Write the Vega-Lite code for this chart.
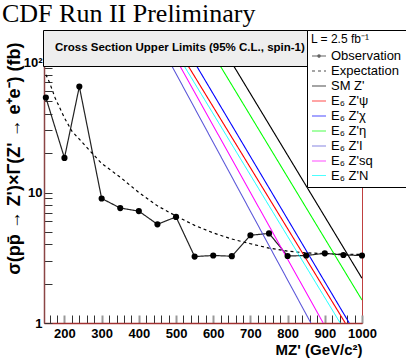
{
  "$schema": "https://vega.github.io/schema/vega-lite/v6.json",
  "autosize": "none",
  "width": 318,
  "height": 261,
  "padding": {"top": 62, "left": 44, "right": 44, "bottom": 37},
  "background": "white",
  "view": {"stroke": "#c04040", "strokeWidth": 1},
  "title": {
    "text": "CDF Run II Preliminary",
    "anchor": "start",
    "frame": "group",
    "dx": -42,
    "offset": 3,
    "font": "Liberation Serif",
    "fontSize": 26,
    "fontWeight": "normal",
    "color": "black"
  },
  "datasets": {
    "lines": [
      {"series": "Observation", "mass": 150, "xs": 53.4},
      {"series": "Observation", "mass": 200, "xs": 18.4},
      {"series": "Observation", "mass": 240, "xs": 64.8},
      {"series": "Observation", "mass": 300, "xs": 9.0},
      {"series": "Observation", "mass": 350, "xs": 7.6},
      {"series": "Observation", "mass": 400, "xs": 7.2},
      {"series": "Observation", "mass": 450, "xs": 5.7},
      {"series": "Observation", "mass": 500, "xs": 6.5},
      {"series": "Observation", "mass": 550, "xs": 3.23},
      {"series": "Observation", "mass": 600, "xs": 3.29},
      {"series": "Observation", "mass": 650, "xs": 3.25},
      {"series": "Observation", "mass": 700, "xs": 4.7},
      {"series": "Observation", "mass": 750, "xs": 4.86},
      {"series": "Observation", "mass": 800, "xs": 3.26},
      {"series": "Observation", "mass": 850, "xs": 3.29},
      {"series": "Observation", "mass": 900, "xs": 3.42},
      {"series": "Observation", "mass": 950, "xs": 3.32},
      {"series": "Observation", "mass": 1000, "xs": 3.29},
      {"series": "Expectation", "mass": 150, "xs": 80},
      {"series": "Expectation", "mass": 160, "xs": 69.5},
      {"series": "Expectation", "mass": 175, "xs": 53},
      {"series": "Expectation", "mass": 200, "xs": 37.3},
      {"series": "Expectation", "mass": 220, "xs": 29.5},
      {"series": "Expectation", "mass": 240, "xs": 25.6},
      {"series": "Expectation", "mass": 278, "xs": 19.5},
      {"series": "Expectation", "mass": 300, "xs": 16.7},
      {"series": "Expectation", "mass": 350, "xs": 13.1},
      {"series": "Expectation", "mass": 400, "xs": 10.0},
      {"series": "Expectation", "mass": 450, "xs": 7.9},
      {"series": "Expectation", "mass": 500, "xs": 6.6},
      {"series": "Expectation", "mass": 550, "xs": 5.6},
      {"series": "Expectation", "mass": 600, "xs": 4.9},
      {"series": "Expectation", "mass": 650, "xs": 4.4},
      {"series": "Expectation", "mass": 700, "xs": 4.05},
      {"series": "Expectation", "mass": 750, "xs": 3.75},
      {"series": "Expectation", "mass": 800, "xs": 3.55},
      {"series": "Expectation", "mass": 850, "xs": 3.45},
      {"series": "Expectation", "mass": 900, "xs": 3.4},
      {"series": "Expectation", "mass": 950, "xs": 3.37},
      {"series": "Expectation", "mass": 1000, "xs": 3.35},
      {"series": "SM Z'", "mass": 648.6, "xs": 100},
      {"series": "SM Z'", "mass": 1000, "xs": 2.2},
      {"series": "E₆ Z'ψ", "mass": 526.2, "xs": 100},
      {"series": "E₆ Z'ψ", "mass": 955, "xs": 1},
      {"series": "E₆ Z'χ", "mass": 549, "xs": 100},
      {"series": "E₆ Z'χ", "mass": 965.7, "xs": 1},
      {"series": "E₆ Z'η", "mass": 612.5, "xs": 100},
      {"series": "E₆ Z'η", "mass": 1000, "xs": 1.5},
      {"series": "E₆ Z'I", "mass": 483, "xs": 100},
      {"series": "E₆ Z'I", "mass": 862.5, "xs": 1},
      {"series": "E₆ Z'sq", "mass": 504.5, "xs": 100},
      {"series": "E₆ Z'sq", "mass": 895.6, "xs": 1},
      {"series": "E₆ Z'N", "mass": 515.4, "xs": 100},
      {"series": "E₆ Z'N", "mass": 941.4, "xs": 1}
    ],
    "box": [{"s": 0}]
  },
  "encoding": {
    "x": {
      "field": "mass",
      "type": "quantitative",
      "scale": {"domain": [145, 1000], "nice": false, "zero": false},
      "axis": {
        "values": [160, 180, 200, 220, 240, 260, 280, 300, 320, 340, 360, 380, 400, 420, 440, 460, 480, 500, 520, 540, 560, 580, 600, 620, 640, 660, 680, 700, 720, 740, 760, 780, 800, 820, 840, 860, 880, 900, 920, 940, 960, 980, 1000],
        "labelExpr": "datum.value % 100 === 0 ? format(datum.value, 'd') : ''",
        "labelOverlap": false,
        "labelFlush": false,
        "labelFont": "Liberation Sans",
        "labelFontWeight": "bold",
        "labelFontSize": 13,
        "labelColor": "black",
        "labelPadding": 12,
        "tickSize": -8,
        "tickColor": {"condition": {"test": "datum.value % 100 === 0", "value": "#999999"}, "value": "#333333"},
        "tickWidth": {"condition": {"test": "datum.value % 100 === 0", "value": 2}, "value": 1},
        "domainColor": "#a03030",
        "domainWidth": 1.5,
        "grid": false,
        "title": "MZ' (GeV/c²)",
        "titleAnchor": "end",
        "titleFont": "Liberation Sans",
        "titleFontWeight": "bold",
        "titleFontSize": 15,
        "titleColor": "black",
        "titlePadding": 2
      }
    },
    "y": {
      "field": "xs",
      "type": "quantitative",
      "scale": {"type": "log", "domain": [1, 100], "nice": false},
      "axis": {
        "values": [1, 2, 3, 4, 5, 6, 7, 8, 9, 10, 20, 30, 40, 50, 60, 70, 80, 90, 100],
        "labelExpr": "datum.value == 100 ? '10²' : (datum.value == 10 ? '10' : (datum.value == 1 ? '1' : ''))",
        "labelOverlap": false,
        "labelFlush": false,
        "labelFont": "Liberation Sans",
        "labelFontWeight": "bold",
        "labelFontSize": 13,
        "labelColor": "black",
        "labelPadding": 10,
        "tickSize": -8,
        "tickColor": "#333333",
        "domainColor": "#8b4545",
        "domainWidth": 1.5,
        "grid": false,
        "title": "σ(pp̄ → Z')×Γ(Z' → e⁺e⁻) (fb)",
        "titleAnchor": "end",
        "titleY": -20,
        "titleFont": "Liberation Sans",
        "titleFontWeight": "bold",
        "titleFontSize": 18,
        "titleColor": "black",
        "titlePadding": 0
      }
    }
  },
  "layer": [
    {
      "data": {"name": "box"},
      "transform": [{"filter": "false"}],
      "mark": {"type": "point"},
      "encoding": {
        "size": {
          "field": "s",
          "type": "quantitative",
          "scale": {"domain": [0, 1]},
          "legend": {
            "values": [],
            "orient": "none",
            "legendX": -1,
            "legendY": -32,
            "title": "Cross Section Upper Limits (95% C.L., spin-1)",
            "titleLimit": 400,
            "titleFont": "Liberation Sans",
            "titleFontWeight": "bold",
            "titleFontSize": 11.5,
            "titleColor": "black",
            "titlePadding": 0,
            "fillColor": "#eeeeee",
            "strokeColor": "black",
            "padding": 12
          }
        }
      }
    },
    {
      "data": {"name": "lines"},
      "mark": {"type": "line", "clip": true},
      "encoding": {
        "color": {
          "field": "series",
          "type": "nominal",
          "scale": {
            "domain": ["Observation", "Expectation", "SM Z'", "E₆ Z'ψ", "E₆ Z'χ", "E₆ Z'η", "E₆ Z'I", "E₆ Z'sq", "E₆ Z'N"],
            "range": ["#222222", "#000000", "#000000", "#ff0000", "#0000ff", "#00ff00", "#5954d8", "#ff00ff", "#00ffff"]
          },
          "legend": {
            "orient": "none",
            "legendX": 263,
            "legendY": -32,
            "title": "L = 2.5 fb⁻¹",
            "titleFont": "Liberation Sans",
            "titleFontWeight": "normal",
            "titleFontSize": 12,
            "titleColor": "black",
            "titlePadding": 2,
            "labelFont": "Liberation Sans",
            "labelFontSize": 13,
            "labelColor": "black",
            "labelOffset": 4,
            "fillColor": "white",
            "strokeColor": "black",
            "padding": 4,
            "symbolSize": 196,
            "symbolStrokeWidth": 2,
            "symbolOpacity": 1,
            "rowPadding": 0
          }
        },
        "strokeDash": {
          "field": "series",
          "type": "nominal",
          "scale": {
            "domain": ["Observation", "Expectation", "SM Z'", "E₆ Z'ψ", "E₆ Z'χ", "E₆ Z'η", "E₆ Z'I", "E₆ Z'sq", "E₆ Z'N"],
            "range": [[1, 0], [3, 3], [1, 0], [1, 0], [1, 0], [1, 0], [1, 0], [1, 0], [1, 0]]
          }
        },
        "strokeWidth": {
          "field": "series",
          "type": "nominal",
          "scale": {
            "domain": ["Observation", "Expectation", "SM Z'", "E₆ Z'ψ", "E₆ Z'χ", "E₆ Z'η", "E₆ Z'I", "E₆ Z'sq", "E₆ Z'N"],
            "range": [1.2, 1, 2, 2, 2, 2, 2, 2, 2]
          },
          "legend": null
        },
        "order": {"field": "mass", "type": "quantitative"}
      }
    },
    {
      "data": {"name": "lines"},
      "transform": [{"filter": "datum.series === 'Observation'"}],
      "mark": {"type": "circle", "size": 38, "color": "black", "opacity": 1}
    },
    {
      "data": {"name": "lines"},
      "transform": [{"filter": "false"}],
      "mark": {"type": "point", "filled": false},
      "encoding": {
        "shape": {
          "field": "series",
          "type": "nominal",
          "scale": {
            "domain": ["Observation", "Expectation", "SM Z'", "E₆ Z'ψ", "E₆ Z'χ", "E₆ Z'η", "E₆ Z'I", "E₆ Z'sq", "E₆ Z'N"],
            "range": ["M-1,0H1M0.17,0A0.17,0.17,0,1,1,-0.17,0A0.17,0.17,0,1,1,0.17,0", "stroke", "stroke", "stroke", "stroke", "stroke", "stroke", "stroke", "stroke"]
          }
        }
      }
    }
  ]
}
